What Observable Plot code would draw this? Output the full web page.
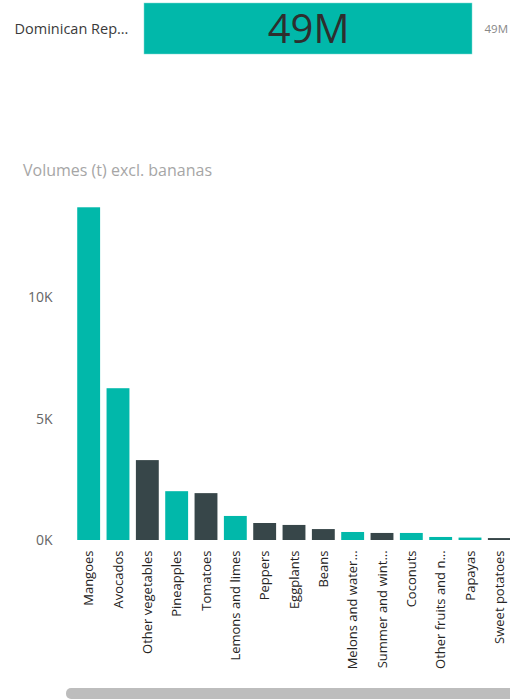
<!DOCTYPE html>
<html>
<head>
<meta charset="utf-8">
<script src="https://cdn.jsdelivr.net/npm/d3@7"></script>
<script src="https://cdn.jsdelivr.net/npm/@observablehq/plot@0.6"></script>
<style>
  html, body { margin: 0; padding: 0; background: #fff; }
  body { width: 510px; height: 699px; overflow: hidden; position: relative; font-family: "Open Sans", "Noto Sans", sans-serif; }
  #top { position: absolute; left: 0; top: 0; }
  #title { position: absolute; left: 23px; top: 159px; font-size: 16px; color: #a6a6a6; white-space: nowrap; }
  #main { position: absolute; left: 0; top: 185px; }
  #scroll { position: absolute; left: 66px; top: 688px; width: 460px; height: 11px; border-radius: 5px; background: #bdbdbd; }
</style>
</head>
<body>
<div id="top"></div>
<div id="title">Volumes (t) excl. bananas</div>
<div id="main"></div>
<div id="scroll"></div>
<script>
// Top card data
const countries = ["Dominican Rep..."];
const countryValues = [49]; // millions
const countryLabels = ["49M"];

// Main chart data
const categories = ["Mangoes", "Avocados", "Other vegetables", "Pineapples", "Tomatoes", "Lemons and limes", "Peppers", "Eggplants", "Beans", "Melons and watermelons", "Summer and winter squash", "Coconuts", "Other fruits and nuts", "Papayas", "Sweet potatoes"];
const tickLabels = ["Mangoes", "Avocados", "Other vegetables", "Pineapples", "Tomatoes", "Lemons and limes", "Peppers", "Eggplants", "Beans", "Melons and water…", "Summer and wint…", "Coconuts", "Other fruits and n…", "Papayas", "Sweet potatoes"];
const volumes = [13700, 6250, 3290, 2010, 1930, 990, 700, 620, 450, 330, 290, 290, 125, 100, 80];
const groups = ["Fruit", "Fruit", "Vegetable", "Fruit", "Vegetable", "Fruit", "Vegetable", "Vegetable", "Vegetable", "Fruit", "Vegetable", "Fruit", "Fruit", "Fruit", "Vegetable"];
const yTicks = [0, 5000, 10000];
const yTickLabels = ["0K", "5K", "10K"];

const font = "'Open Sans', 'Noto Sans', sans-serif";

// Top card
const topData = countries.map((c, i) => ({c, v: countryValues[i], label: countryLabels[i]}));
const topPlot = Plot.plot({
  width: 510, height: 58,
  marginLeft: 144, marginRight: 38, marginTop: 3, marginBottom: 4,
  style: {fontFamily: font, background: "transparent", overflow: "visible"},
  x: {domain: [0, 49], axis: null},
  y: {domain: countries, padding: 0, axis: null},
  marks: [
    Plot.barX(topData, {x: "v", y: "c", fill: "#01B8AA", stroke: "#7fd9d1", strokeWidth: 0.5}),
    Plot.text(topData, {x: 0, y: "c", text: "c", textAnchor: "start", dx: -130, fontSize: 14.5, fill: "#3a3a3a"}),
    Plot.text(topData, {x: d => d.v / 2, y: "c", text: "label", fontSize: 40, fill: "#2e2e2e", dy: 1}),
    Plot.text(topData, {x: "v", y: "c", text: "label", textAnchor: "start", dx: 12, fontSize: 11.5, fill: "#888"})
  ]
});
document.getElementById("top").appendChild(topPlot);

// Main chart
const data = categories.map((c, i) => ({c, v: volumes[i], g: groups[i], label: tickLabels[i]}));
const labelMap = new Map(categories.map((c, i) => [c, tickLabels[i]]));
const mainPlot = Plot.plot({
  width: 510, height: 515,
  marginTop: 15, marginBottom: 160, marginLeft: 74, marginRight: 0,
  style: {fontFamily: font, background: "transparent", overflow: "visible"},
  x: {domain: categories, range: [74, 514], paddingInner: 0.22, paddingOuter: 0.11, round: false, axis: null},
  y: {domain: [0, 14000], axis: null},
  color: {domain: ["Fruit", "Vegetable"], range: ["#01B8AA", "#374649"]},
  marks: [
    Plot.barY(data, {x: "c", y: "v", fill: "g"}),
    Plot.axisX({label: null, tickSize: 0, tickPadding: 10, tickRotate: -90, fontSize: 13, fill: "#252423", tickFormat: d => labelMap.get(d)}),
    Plot.axisY({label: null, ticks: yTicks, tickSize: 0, tickPadding: 0, dx: -22, fontSize: 14, fill: "#666", tickFormat: d => yTickLabels[yTicks.indexOf(d)]})
  ]
});
document.getElementById("main").appendChild(mainPlot);
</script>
</body>
</html>
